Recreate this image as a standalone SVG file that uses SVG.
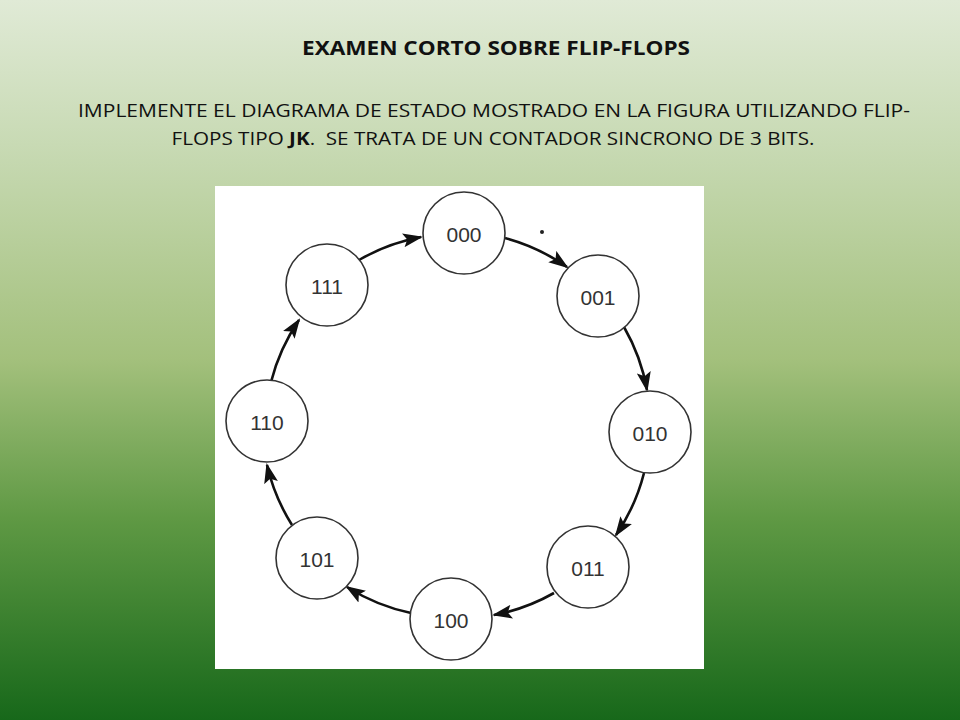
<svg xmlns="http://www.w3.org/2000/svg" width="960" height="720" viewBox="0 0 960 720">
<defs>
<linearGradient id="bg" x1="0" y1="0" x2="0" y2="1">
<stop offset="0" stop-color="#e0ead6"/>
<stop offset="0.2" stop-color="#c8dab4"/>
<stop offset="0.5" stop-color="#a3c07c"/>
<stop offset="0.72" stop-color="#5f9944"/>
<stop offset="1" stop-color="#17681a"/>
</linearGradient>
<marker id="ah" markerUnits="userSpaceOnUse" markerWidth="20" markerHeight="14" refX="18" refY="7" orient="auto">
<path d="M0,0 L20,7 L0,14 L4,7 z" fill="#111"/>
</marker>
<style>
.title{font-family:"Open Sans",Lato,"Liberation Sans",sans-serif;font-weight:bold;font-size:20px;fill:#111}
.body{font-family:"Open Sans",Lato,"Liberation Sans",sans-serif;font-size:18px;fill:#111}
.node circle{fill:#fff;stroke:#333;stroke-width:1.6}
.node text{font-family:"Liberation Sans",Arial,sans-serif;font-size:21px;fill:#333;text-anchor:middle}
.edge{fill:none;stroke:#111;stroke-width:2.6;marker-end:url(#ah)}
</style>
</defs>
<rect width="960" height="720" fill="url(#bg)"/>
<text class="title" x="496" y="55" text-anchor="middle" textLength="388" lengthAdjust="spacingAndGlyphs">EXAMEN CORTO SOBRE FLIP-FLOPS</text>
<text class="body" x="494" y="117" text-anchor="middle" textLength="832" lengthAdjust="spacingAndGlyphs">IMPLEMENTE EL DIAGRAMA DE ESTADO MOSTRADO EN LA FIGURA UTILIZANDO FLIP-</text>
<text class="body" x="493" y="145" text-anchor="middle" textLength="643" lengthAdjust="spacingAndGlyphs">FLOPS TIPO <tspan font-weight="bold">JK</tspan>.&#160; SE TRATA DE UN CONTADOR SINCRONO DE 3 BITS.</text>
<rect x="215" y="186" width="489" height="483" fill="#fff"/>
<g id="connectors">
<path class="edge" d="M505,238 A195,195 0 0 1 567,267"/>
<path class="edge" d="M624,327 A195,195 0 0 1 647,390"/>
<path class="edge" d="M644,473 A195,195 0 0 1 616,535"/>
<path class="edge" d="M554,593 A195,195 0 0 1 494,615"/>
<path class="edge" d="M411,613 A195,195 0 0 1 347,587"/>
<path class="edge" d="M292,525 A195,195 0 0 1 267,465"/>
<path class="edge" d="M271,382 A195,195 0 0 1 299,320"/>
<path class="edge" d="M359,260 A195,195 0 0 1 421,237"/>
<circle cx="542" cy="232" r="2" fill="#222"/>
</g>
<g id="n000" class="node"><circle cx="464" cy="233" r="41"/><text x="464" y="242">000</text></g>
<g id="n001" class="node"><circle cx="598" cy="296" r="41"/><text x="598" y="305">001</text></g>
<g id="n010" class="node"><circle cx="650" cy="432" r="41"/><text x="650" y="441">010</text></g>
<g id="n011" class="node"><circle cx="588" cy="567" r="41"/><text x="588" y="576">011</text></g>
<g id="n100" class="node"><circle cx="451" cy="619" r="41"/><text x="451" y="628">100</text></g>
<g id="n101" class="node"><circle cx="317" cy="558" r="41"/><text x="317" y="567">101</text></g>
<g id="n110" class="node"><circle cx="267" cy="421" r="41"/><text x="267" y="430">110</text></g>
<g id="n111" class="node"><circle cx="327" cy="285" r="41"/><text x="327" y="294">111</text></g>
</svg>
